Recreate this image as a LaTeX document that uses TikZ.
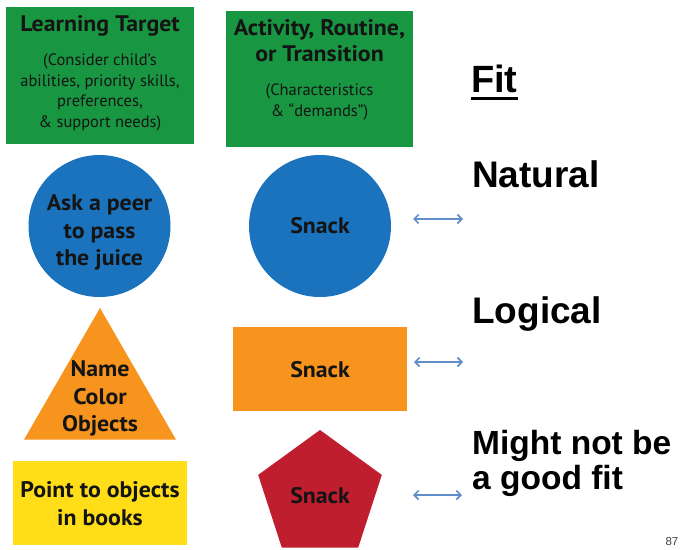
\documentclass[tikz,border=0pt]{standalone}
\usepackage{fontspec}
\setmainfont{PT Sans}
\newfontfamily\labelfont{PT Sans Bold}[FakeStretch=1.06]
\newfontfamily\headfont{Liberation Sans}
\usetikzlibrary{shapes.geometric,arrows.meta,calc}

\definecolor{boxgreen}{RGB}{25,150,66}
\definecolor{peerblue}{RGB}{26,115,188}
\definecolor{snackorange}{RGB}{246,148,30}
\definecolor{bookyellow}{RGB}{255,221,24}
\definecolor{snackred}{RGB}{190,30,45}
\definecolor{linkblue}{RGB}{98,142,200}
\definecolor{inktext}{RGB}{20,20,20}

\tikzset{
  panel/.style={rectangle, draw=none, inner sep=0pt},
  shapelabel/.style={inner sep=0pt, align=center, text=inktext,
    font=\labelfont\fontsize{22.5}{27.5}\selectfont},
  headtitle/.style={inner sep=0pt, align=center, text=inktext,
    font=\labelfont\fontsize{22.5}{26}\selectfont},
  headnote/.style={inner sep=0pt, align=center, text=inktext,
    font=\fontsize{16.5}{20.5}\selectfont},
  fitlabel/.style={inner sep=0pt, anchor=base west, text=black,
    font=\headfont\bfseries\fontsize{37}{37}\selectfont},
  fitlink/.style={draw=linkblue, line width=1.6pt,
    {Straight Barb[length=4.5pt,width=9pt]}-{Straight Barb[length=4.5pt,width=9pt]}}
}

\begin{document}
\begin{tikzpicture}[x=1pt,y=-1pt]
\useasboundingbox (0,0) rectangle (680,549);
\fill[white] (0,0) rectangle (680,549);

% column headers
\node[panel, fill=boxgreen, minimum width=188, minimum height=137] (target) at (100,75.5) {};
\node[panel, fill=boxgreen, minimum width=187, minimum height=136] (activity) at (319.5,79) {};
\node[headtitle] (targettitle) at (100,26) {Learning Target};
\node[headnote] (targetnote) at (100,92.5) {(Consider child’s\\abilities, priority skills,\\preferences,\\\& support needs)};
\node[headtitle] (activitytitle) at (319.5,40.5) {Activity, Routine,\\or Transition};
\node[headnote] (activitynote) at (319.5,102) {(Characteristics\\\& “demands”)};

% learning targets
\node[circle, fill=peerblue, minimum size=142, inner sep=0pt] (peer) at (99.5,226) {};
\node[shapelabel] (peertext) at (99.5,232.5) {Ask a peer\\to pass\\the juice};
\node[regular polygon, regular polygon sides=3, fill=snackorange, minimum size=175.6, inner sep=0pt] (colors) at (100,395.8) {};
\node[shapelabel] (colorstext) at (100,398.5) {Name\\Color\\Objects};
\node[panel, fill=bookyellow, minimum width=174, minimum height=84] (books) at (100,503) {};
\node[shapelabel] (bookstext) at (100,503.5) {Point to objects\\in books};

% activities
\node[circle, fill=peerblue, minimum size=142, inner sep=0pt] (snackA) at (320,226) {};
\node[shapelabel] (snackAtext) at (snackA.center) {Snack};
\node[panel, fill=snackorange, minimum width=174, minimum height=84] (snackB) at (320,369) {};
\node[shapelabel] (snackBtext) at (320,370) {Snack};
\node[regular polygon, regular polygon sides=5, fill=snackred, minimum size=130, inner sep=0pt] (snackC) at (320,495) {};
\node[shapelabel] (snackCtext) at (320,496) {Snack};

% fit column
\node[fitlabel, font=\headfont\bfseries\fontsize{38}{38}\selectfont] (fit) at (471,92) {Fit};
\draw[line width=2.5pt] ($(fit.base west)+(0,6.5)$) -- ($(fit.base east)+(0,6.5)$);
\node[fitlabel] (natural) at (472,187) {Natural};
\node[fitlabel] (logical) at (472,323) {Logical};
\node[fitlabel, font=\headfont\bfseries\fontsize{33.5}{35}\selectfont] (mightnot) at (472,454) {Might not be};
\node[fitlabel, font=\headfont\bfseries\fontsize{33.5}{35}\selectfont] (goodfit) at (472,489) {a good fit};

% links
\coordinate (linkAa) at (413,219);
\coordinate (linkAb) at (463,219);
\coordinate (linkBa) at (414,362);
\coordinate (linkBb) at (463,362);
\coordinate (linkCa) at (413,495);
\coordinate (linkCb) at (462,495);
\draw[fitlink] (linkAa) -- (linkAb);
\draw[fitlink] (linkBa) -- (linkBb);
\draw[fitlink] (linkCa) -- (linkCb);

% page number
\node[inner sep=0pt, anchor=base east, text=black!75, font=\headfont\fontsize{11.5}{14}\selectfont] (pagenum) at (678.5,545) {87};
\end{tikzpicture}
\end{document}
